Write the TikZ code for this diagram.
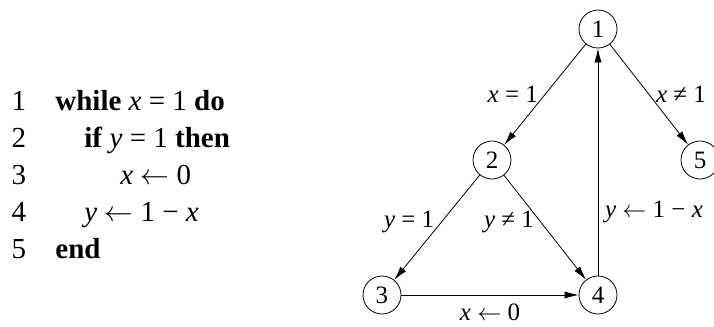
\documentclass[tikz,border=0pt]{standalone}
\usepackage{fontspec}
\setmainfont{Liberation Serif}
\usetikzlibrary{positioning,arrows.meta}
\newcommand{\xv}{\textit{x}}
\newcommand{\yv}{\textit{y}}
\newcommand{\assignto}{\ensuremath{\leftarrow}}

\begin{document}
\begin{tikzpicture}[
    x=0.5pt,y=-0.5pt,
    txt/.style={font=\fontsize{12.5}{15}\selectfont},
    codetxt/.style={font=\fontsize{14.5}{17}\selectfont},
    codeline/.style={codetxt,anchor=base west,inner sep=0pt},
    lineno/.style={codetxt,anchor=base,inner sep=0pt},
    state/.style={circle,draw,thin,minimum size=19pt,inner sep=0pt,txt},
    lbl/.style={txt},
    arrow/.style={-{Latex[length=7pt,width=3.6pt]},thin}
]
\useasboundingbox (0,0) rectangle (714,327);

% Code listing
\node[lineno] (no1) at (19,110) {1};
\node[lineno] (no2) at (19,147) {2};
\node[lineno] (no3) at (19,184) {3};
\node[lineno] (no4) at (19,221) {4};
\node[lineno] (no5) at (19,258) {5};

\node[codeline] (ln1) at (55,110) {\textbf{while} \xv{} = 1 \textbf{do}};
\node[codeline] (ln2) at (84,147) {\textbf{if} \yv{} = 1 \textbf{then}};
\node[codeline] (ln3) at (120,184) {\xv{} \assignto{} 0};
\node[codeline] (ln4) at (84,221) {\yv{} \assignto{} 1 − \xv};
\node[codeline] (ln5) at (55,258) {\textbf{end}};

% Flow graph
\node[state] (s1) at (598,29) {1};
\node[state] (s2) at (492,160) {2};
\node[state] (s3) at (382,295) {3};
\node[state] (s4) at (598,295) {4};
\node[state] (s5) at (700,160) {5};

\draw[arrow] (s1) -- node[lbl,left] {\xv{} = 1} (s2);
\draw[arrow] (s1) -- node[lbl,right] {\xv{} ≠ 1} (s5);
\draw[arrow] (s2) -- node[lbl,left,pos=0.45] {\yv{} = 1} (s3);
\draw[arrow] (s2) -- node[lbl,left,pos=0.45] {\yv{} ≠ 1} (s4);
\draw[arrow] (s3) -- node[lbl,below=1pt] {\xv{} \assignto{} 0} (s4);
\draw[arrow] (s4) -- node[lbl,right,pos=0.28] {\yv{} \assignto{} 1 − \xv} (s1);

\end{tikzpicture}
\end{document}
